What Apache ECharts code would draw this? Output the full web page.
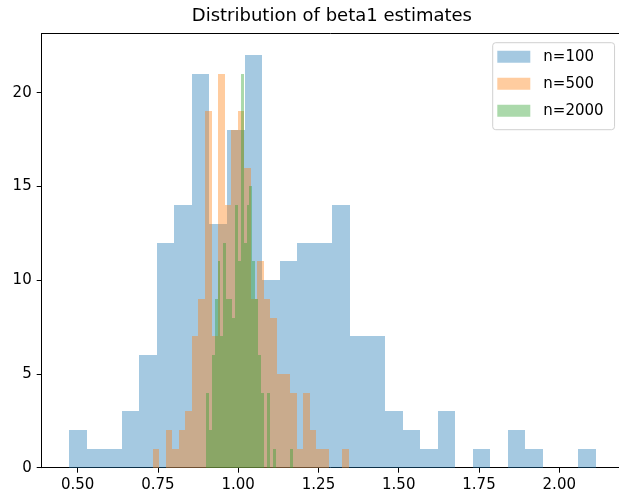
<!DOCTYPE html>
<html><head><meta charset="utf-8">
<script src="https://cdn.jsdelivr.net/npm/echarts@6/dist/echarts.min.js"></script>
<style>html,body{margin:0;padding:0;background:#fff}#c{width:619px;height:494px}</style>
</head><body><div id="c"></div>
<script>
const titleText = 'Distribution of beta1 estimates';
const seriesNames = ['n=100', 'n=500', 'n=2000'];
const n100Counts = [2,1,1,3,6,12,14,21,13,18,22,10,11,12,12,14,7,7,3,2,1,3,0,1,0,2,1,0,0,1];
const n100BinStart = 0.4729, n100BinWidth = 0.05468;
const n500Counts = [1,0,2,1,2,3,7,9,19,7,21,14,18,19,16,9,11,9,8,5,5,4,1,4,2,1,1,0,0,1];
const n500BinStart = 0.7336, n500BinWidth = 0.02038;
const n2000Counts = [4,2,6,9,11,7,12,9,9,8,14,11,21,12,14,15,11,9,6,4,0,4,0,1,0,0,0,0,0,1];
const n2000BinStart = 0.8996, n2000BinWidth = 0.00903;
const xTicks = [0.5, 0.75, 1.0, 1.25, 1.5, 1.75, 2.0];
const yTicks = [0, 5, 10, 15, 20];

const FONT = 'DejaVu Sans';
const colors = ['rgba(31,119,180,0.4)', 'rgba(255,127,14,0.4)', 'rgba(44,160,44,0.4)'];

function bins(counts, start, width) {
  return counts.map((c, i) => [start + i * width, start + (i + 1) * width, c]);
}
const allData = [
  bins(n100Counts, n100BinStart, n100BinWidth),
  bins(n500Counts, n500BinStart, n500BinWidth),
  bins(n2000Counts, n2000BinStart, n2000BinWidth)
];

function renderItem(params, api) {
  const p0 = api.coord([api.value(0), 0]);
  const p1 = api.coord([api.value(1), api.value(2)]);
  const xa = Math.round(p0[0]), xb = Math.round(p1[0]);
  const yb = Math.round(p0[1]), yt = Math.round(p1[1]);
  return {
    type: 'rect',
    shape: { x: xa, y: yt, width: xb - xa, height: yb - yt },
    style: { fill: api.visual('color') }
  };
}

const XMIN = 0.388, XMAX = 2.186, YMAX = 23.16;
const chart = echarts.init(document.getElementById('c'), null, { renderer: 'canvas' });
chart.setOption({
  animation: false,
  backgroundColor: '#fff',
  textStyle: { fontFamily: FONT },
  title: {
    text: titleText, left: 331.9, top: 7, textAlign: 'center', padding: 0,
    textStyle: { fontFamily: FONT, fontSize: 18, fontWeight: 'normal', color: '#000' }
  },
  legend: {
    data: seriesNames, orient: 'vertical', left: 492.7, top: 42.7,
    padding: [6.6, 11, 11.4, 4.6], itemWidth: 33, itemHeight: 12, itemGap: 12,
    icon: 'rect', backgroundColor: '#fff', borderColor: '#d0d0d0', borderWidth: 1, borderRadius: 3,
    textStyle: { fontFamily: FONT, fontSize: 15, color: '#000', lineHeight: 12, padding: [0, 0, 0, 8] }
  },
  grid: { left: 41.7, right: 0, top: 33.5, bottom: 26.3, containLabel: false },
  xAxis: [{
    type: 'value', min: XMIN, max: XMAX, position: 'bottom',
    splitLine: { show: false },
    axisLine: { show: true, onZero: false, lineStyle: { color: '#000', width: 1 } },
    axisTick: { show: true, length: 5, customValues: xTicks, lineStyle: { color: '#000', width: 1 } },
    axisLabel: { customValues: xTicks, margin: 10, fontFamily: FONT, fontSize: 15, color: '#000',
      formatter: v => v.toFixed(2) }
  }, {
    type: 'value', min: XMIN, max: XMAX, position: 'top',
    splitLine: { show: false },
    axisLine: { show: true, onZero: false, lineStyle: { color: '#000', width: 1 } },
    axisTick: { show: false }, axisLabel: { show: false }
  }],
  yAxis: {
    type: 'value', min: 0, max: YMAX,
    splitLine: { show: false },
    axisLine: { show: true, onZero: false, lineStyle: { color: '#000', width: 1 } },
    axisTick: { show: true, length: 5, customValues: yTicks, lineStyle: { color: '#000', width: 1 } },
    axisLabel: { customValues: yTicks, margin: 10, fontFamily: FONT, fontSize: 15, color: '#000',
      formatter: v => String(v) }
  },
  series: seriesNames.map((name, i) => ({
    name: name, type: 'custom', renderItem: renderItem,
    xAxisIndex: 0, yAxisIndex: 0,
    itemStyle: { color: colors[i] },
    encode: { x: [0, 1], y: 2 },
    data: allData[i]
  }))
});
</script></body></html>
